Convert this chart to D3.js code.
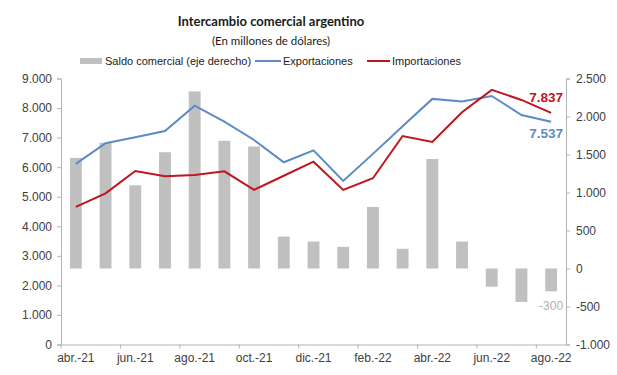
<!DOCTYPE html>
<html>
<head>
<meta charset="utf-8">
<script src="https://cdn.jsdelivr.net/npm/d3@7"></script>
<style>
	body { margin: 0; background: #fff; }
	text { font-family: "Liberation Sans", Arial, sans-serif; }
	.title { font-family: Lato, "Open Sans", sans-serif; }
</style>
</head>
<body>
<script>
//monthly trade data, millions of USD
var months = ["abr.-21","may.-21","jun.-21","jul.-21","ago.-21","sep.-21","oct.-21","nov.-21","dic.-21",
	"ene.-22","feb.-22","mar.-22","abr.-22","may.-22","jun.-22","jul.-22","ago.-22"];
var exportaciones = [6110,6810,7010,7225,8080,7540,6920,6165,6570,5535,6450,7385,8310,8220,8410,7765,7537];
var importaciones = [4655,5115,5870,5690,5735,5860,5230,5710,6185,5230,5625,7055,6855,7860,8615,8275,7837];
var saldo = [1455,1655,1095,1530,2330,1680,1605,420,355,285,810,260,1440,355,-240,-440,-300];
var leftTicks = [0,1000,2000,3000,4000,5000,6000,7000,8000,9000];
var rightTicks = [-1000,-500,0,500,1000,1500,2000,2500];

var width = 617, height = 375;
var margin = {left: 61, right: 51, top: 78.5, bottom: 30.5};

var svg = d3.select("body").append("svg")
	.attr("width", width)
	.attr("height", height);

var x = d3.scaleBand()
	.domain(months)
	.range([margin.left, width - margin.right])
	.padding(0);

var yL = d3.scaleLinear().domain([0, 9000]).range([height - margin.bottom, margin.top]);
var yR = d3.scaleLinear().domain([-1000, 2500]).range([height - margin.bottom, margin.top]);

//thousands with dots, plain hyphen for negatives
var fmt = function(v){ return d3.format(",")(v).replace(/,/g, ".").replace("\u2212", "-"); };
var axisColor = "#b3b3b3";

//bars (right axis)
var barW = x.bandwidth() * 0.4;
svg.selectAll(".bar")
	.data(saldo)
	.enter()
	.append("rect")
	.attr("class", "bar")
	.attr("x", function(d, i){ return x(months[i]) + (x.bandwidth() - barW) / 2; })
	.attr("width", barW)
	.attr("y", function(d){ return yR(Math.max(d, 0)); })
	.attr("height", function(d){ return Math.abs(yR(d) - yR(0)); })
	.style("fill", "#c0c0c0");

//left axis
var axL = svg.append("g")
	.attr("transform", "translate(" + margin.left + ",0)")
	.call(d3.axisLeft(yL).tickValues(leftTicks).tickSize(4).tickPadding(5).tickFormat(fmt));
//right axis
var axR = svg.append("g")
	.attr("transform", "translate(" + (width - margin.right) + ",0)")
	.call(d3.axisRight(yR).tickValues(rightTicks).tickSize(4).tickPadding(6).tickFormat(fmt));
//bottom axis: labels every 2 months
var axB = svg.append("g")
	.attr("transform", "translate(0," + (height - margin.bottom) + ")")
	.call(d3.axisBottom(x).tickSize(0).tickPadding(9)
		.tickValues(months.filter(function(d, i){ return i % 2 == 0; })));
//tick marks at category boundaries
axB.selectAll(".bnd")
	.data(months.filter(function(d, i){ return i % 2 == 0; }))
	.enter()
	.append("line")
	.attr("class", "bnd")
	.attr("x1", function(d){ return x(d); })
	.attr("x2", function(d){ return x(d); })
	.attr("y1", 0)
	.attr("y2", 4)
	.attr("stroke", axisColor);

[axL, axR, axB].forEach(function(a){
	a.select(".domain").attr("stroke", axisColor);
	a.selectAll(".tick line").attr("stroke", axisColor);
	a.selectAll("text").style("font-size", "12px").attr("fill", "#404040")
		.style("font-family", "'Liberation Sans', Arial, sans-serif");
});

//lines
var lineL = d3.line()
	.x(function(d, i){ return x(months[i]) + x.bandwidth() / 2; })
	.y(function(d){ return yL(d); });

svg.append("path")
	.datum(exportaciones)
	.attr("d", lineL)
	.attr("fill", "none")
	.attr("stroke", "#5b8ac6")
	.attr("stroke-width", 2);

svg.append("path")
	.datum(importaciones)
	.attr("d", lineL)
	.attr("fill", "none")
	.attr("stroke", "#c0141e")
	.attr("stroke-width", 2);

//end labels
var last = months.length - 1;
var lastX = x(months[last]) + x.bandwidth() / 2;
svg.append("text")
	.attr("x", lastX + 12).attr("y", yL(importaciones[last]) - 11)
	.attr("text-anchor", "end")
	.style("font-size", "13.5px").style("font-weight", "bold")
	.attr("fill", "#c0141e")
	.text(fmt(importaciones[last]));
svg.append("text")
	.attr("x", lastX + 12).attr("y", yL(exportaciones[last]) + 16)
	.attr("text-anchor", "end")
	.style("font-size", "13.5px").style("font-weight", "bold")
	.attr("fill", "#5b8ac6")
	.text(fmt(exportaciones[last]));
svg.append("text")
	.attr("x", lastX + 12).attr("y", yR(saldo[last]) + 19)
	.attr("text-anchor", "end")
	.style("font-size", "12px")
	.attr("fill", "#b0b0b0")
	.text(fmt(saldo[last]));

//titles
svg.append("text")
	.attr("class", "title")
	.attr("x", 271).attr("y", 26)
	.attr("text-anchor", "middle")
	.style("font-size", "13px").style("font-weight", "bold")
	.attr("fill", "#1a1a1a")
	.text("Intercambio comercial argentino");
svg.append("text")
	.attr("class", "title")
	.attr("x", 271).attr("y", 45)
	.attr("text-anchor", "middle")
	.style("font-size", "11.5px")
	.attr("fill", "#1a1a1a")
	.text("(En millones de dólares)");

//legend
var legend = svg.append("g").attr("transform", "translate(0,61)");
legend.append("rect").attr("x", 80).attr("y", -3).attr("width", 22).attr("height", 6).attr("fill", "#c0c0c0");
legend.append("text").attr("x", 105).attr("y", 4).style("font-size", "11px").attr("fill", "#1a1a1a")
	.text("Saldo comercial (eje derecho)");
legend.append("line").attr("x1", 255).attr("x2", 281).attr("y1", 0).attr("y2", 0)
	.attr("stroke", "#5b8ac6").attr("stroke-width", 2);
legend.append("text").attr("x", 283).attr("y", 4).style("font-size", "11px").attr("fill", "#1a1a1a")
	.text("Exportaciones");
legend.append("line").attr("x1", 367).attr("x2", 390).attr("y1", 0).attr("y2", 0)
	.attr("stroke", "#c0141e").attr("stroke-width", 2);
legend.append("text").attr("x", 392).attr("y", 4).style("font-size", "11px").attr("fill", "#1a1a1a")
	.text("Importaciones");
</script>
</body>
</html>
